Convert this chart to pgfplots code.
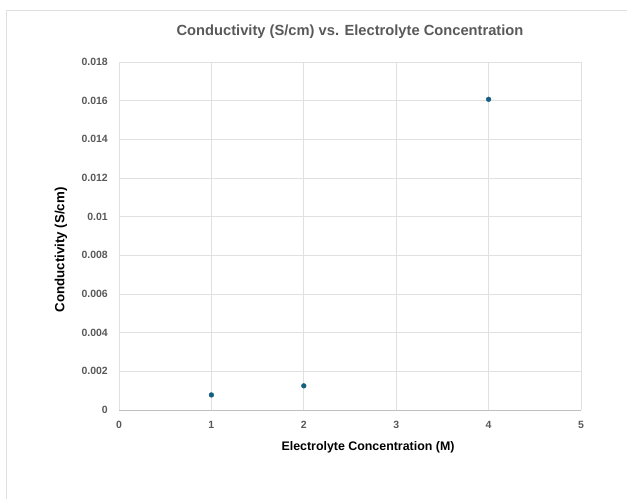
\documentclass[border=0pt]{standalone}
\usepackage{pgfplots}
\pgfplotsset{compat=1.18}
\usepackage{fontspec}
\setmainfont{Liberation Sans}
\definecolor{gridc}{HTML}{E0E0E0}
\definecolor{tickc}{HTML}{595959}
\definecolor{axc}{HTML}{BFBFBF}
\definecolor{ptc}{HTML}{156082}
\begin{document}
\begin{tikzpicture}[x=1pt,y=1pt]
\path[use as bounding box] (0,0) rectangle (627,499);
\draw[gridc, line width=1.2pt] (6.5,0) -- (6.5,488.5) -- (627,488.5);
\begin{axis}[
  at={(119pt,89pt)}, anchor=south west,
  scale only axis, width=462pt, height=348pt,
  xmin=0, xmax=5, ymin=0, ymax=0.018,
  xtick={0,1,2,3,4,5},
  xticklabels={0,1,2,3,4,5},
  ytick={0,0.002,0.004,0.006,0.008,0.01,0.012,0.014,0.016,0.018},
  yticklabels={0,0.002,0.004,0.006,0.008,0.01,0.012,0.014,0.016,0.018},
  scaled y ticks=false,
  grid=major,
  major grid style={gridc, line width=0.8pt},
  axis line style={draw=none},
  axis x line*=bottom,
  x axis line style={draw=axc, line width=0.8pt},
  axis y line*=left,
  y axis line style={draw=none},
  tick style={draw=none},
  xticklabel style={font=\fontsize{10.5}{12}\selectfont\bfseries, text=tickc, anchor=center, yshift=-15pt},
  yticklabel style={font=\fontsize{10.5}{12}\selectfont\bfseries, text=tickc, anchor=east, inner sep=0pt, xshift=-11pt},
  /pgf/number format/assume math mode=true,
  every axis title shift=0pt,
  title={Conductivity (S/cm) vs. Electrolyte Concentration},
  title style={at={(0.5,1.0865)}, anchor=center, yshift=0pt, font=\fontsize{14.7}{17}\selectfont\bfseries, text=tickc},
  xlabel={Electrolyte Concentration (M)},
  xlabel style={at={(axis description cs:0.539,-0.107)}, anchor=center, font=\fontsize{12.4}{14}\selectfont\bfseries, text=black},
  ylabel={Conductivity (S/cm)},
  ylabel style={at={(axis description cs:-0.1255,0.46)}, anchor=center, rotate=0, font=\fontsize{13.3}{15}\selectfont\bfseries, text=black},
  clip=false,
]
\addplot[only marks, mark=*, mark size=2.4pt, mark options={fill=ptc, draw=ptc}] coordinates {
  (1, 0.00078)
  (2, 0.00125)
  (4, 0.01607)
};
\end{axis}
\end{tikzpicture}
\end{document}
